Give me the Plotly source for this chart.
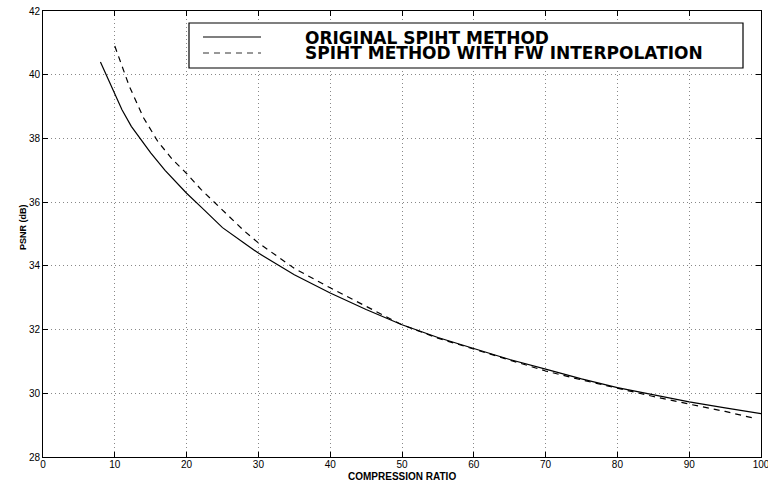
import plotly.graph_objects as go

# Original SPIHT method
ratio_orig = [8, 9, 10, 11, 12.3, 14, 15, 17, 20, 22, 25, 28, 30, 35, 40, 45,
              50, 55, 60, 65, 70, 75, 80, 85, 90, 95, 100]
psnr_orig = [40.40, 39.90, 39.35, 38.90, 38.38, 37.85, 37.55, 37.00, 36.28,
             35.85, 35.20, 34.72, 34.40, 33.72, 33.15, 32.63, 32.15, 31.75,
             31.40, 31.06, 30.76, 30.45, 30.18, 29.95, 29.73, 29.54, 29.36]

# SPIHT method with FW interpolation
ratio_fw = [10, 11, 12, 14, 16, 18, 20, 22, 24, 26, 28, 30, 35, 40, 45, 50,
            55, 60, 65, 70, 75, 80, 85, 90, 95, 99]
psnr_fw = [40.90, 40.25, 39.65, 38.65, 37.90, 37.35, 36.90, 36.40, 35.97,
           35.52, 35.10, 34.72, 33.92, 33.31, 32.72, 32.15, 31.73, 31.38,
           31.03, 30.70, 30.42, 30.15, 29.90, 29.66, 29.43, 29.22]

series_names = ["ORIGINAL SPIHT METHOD", "SPIHT METHOD WITH FW INTERPOLATION"]
x_ticks = [0, 10, 20, 30, 40, 50, 60, 70, 80, 90, 100]
y_ticks = [28, 30, 32, 34, 36, 38, 40, 42]
x_title = "COMPRESSION RATIO"
y_title = "PSNR (dB)"

DASH = "6px,5px"

fig = go.Figure()
fig.add_trace(go.Scatter(x=ratio_orig, y=psnr_orig, mode="lines",
                         name=series_names[0], showlegend=False,
                         line=dict(color="black", width=1.2)))
fig.add_trace(go.Scatter(x=ratio_fw, y=psnr_fw, mode="lines",
                         name=series_names[1], showlegend=False,
                         line=dict(color="black", width=1.2, dash=DASH)))

axis_common = dict(
    ticks="inside", ticklen=5, tickcolor="black", tickwidth=1,
    showline=True, linecolor="black", linewidth=1, mirror="ticks",
    showgrid=True, gridcolor="#888888", gridwidth=1, griddash="1px,3px",
    zeroline=False, automargin=False, ticklabeloverflow="allow",
    tickfont=dict(family="Liberation Sans", size=10, color="black"),
)

# plot area in pixels: left 43, right 761, top 11, bottom 457
L, R, T, B = 43, 761, 11, 457
def px(x):
    return (x - L) / (R - L)
def py(y):
    return (B - y) / (B - T)

shapes = [
    # legend box
    dict(type="rect", xref="paper", yref="paper",
         x0=px(189), x1=px(743), y0=py(68), y1=py(23),
         line=dict(color="black", width=1.2), fillcolor="white", layer="above"),
    dict(type="line", xref="paper", yref="paper",
         x0=px(203), x1=px(261), y0=py(37), y1=py(37),
         line=dict(color="black", width=1.2), layer="above"),
    dict(type="line", xref="paper", yref="paper",
         x0=px(203), x1=px(261), y0=py(53), y1=py(53),
         line=dict(color="#333333", width=1.2, dash=DASH), layer="above"),
]

legend_font = dict(family="DejaVu Sans", size=17, weight="bold", color="black")
annotations = [
    dict(text=series_names[0], xref="paper", yref="paper", x=px(303), y=py(37.5),
         xanchor="left", yanchor="middle", showarrow=False, font=legend_font),
    dict(text=series_names[1], xref="paper", yref="paper", x=px(303), y=py(53),
         xanchor="left", yanchor="middle", showarrow=False, font=legend_font),
    dict(text=x_title, xref="paper", yref="paper", x=0.5, y=py(476.5),
         xanchor="center", yanchor="middle", showarrow=False,
         font=dict(family="Liberation Sans", size=10, weight="bold", color="black")),
    dict(text=y_title, xref="paper", yref="paper", x=px(23), y=py(227),
         xanchor="center", yanchor="middle", showarrow=False, textangle=-90,
         font=dict(family="Liberation Sans", size=9, weight="bold", color="black")),
]

fig.update_layout(
    width=768, height=483,
    margin=dict(l=L, r=768 - R, t=T, b=483 - B),
    paper_bgcolor="white", plot_bgcolor="white",
    xaxis=dict(range=[0, 100], tickvals=x_ticks, ticklabelstandoff=-2,
               **axis_common),
    yaxis=dict(range=[28, 42], tickvals=y_ticks, **axis_common),
    shapes=shapes, annotations=annotations,
    showlegend=False,
)

fig.write_html("out.html",
               config={"displayModeBar": False},
               post_script="document.body.style.margin='0';"
                           "document.body.style.overflow='hidden';")
